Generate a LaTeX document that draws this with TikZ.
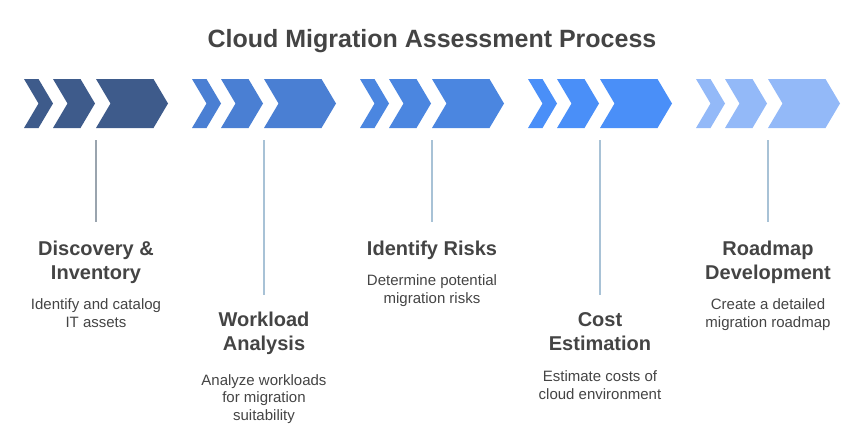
\documentclass[tikz,border=0pt]{standalone}
\usepackage{fontspec}
\setmainfont{Liberation Sans}
\definecolor{gA}{HTML}{3E5B8B}
\definecolor{gB}{HTML}{4A7FD3}
\definecolor{gC}{HTML}{4B86E0}
\definecolor{gD}{HTML}{4A8FF8}
\definecolor{gE}{HTML}{93B9F8}
\definecolor{txt}{HTML}{444444}
\definecolor{lineA}{HTML}{9AA4AE}
\definecolor{lineB}{HTML}{A8C2D6}
\newcommand{\chevshape}[3]{\fill[#3] (#1,79) -- ++(#2,0) -- ++(14.5,24.5) -- ++(-14.5,24.5) -- ++(-#2,0) -- ++(14.5,-24.5) -- cycle;}
\newcommand{\chevgroup}[2]{\chevshape{#1}{14.5}{#2}\chevshape{#1+29}{27.5}{#2}\chevshape{#1+72}{57.5}{#2}}
\tikzset{
  titletext/.style={inner sep=0pt, anchor=base, text=txt, font=\fontsize{25}{30}\selectfont\bfseries},
  headtext/.style={inner sep=0pt, anchor=base, align=center, text=txt, font=\fontsize{20}{24}\selectfont\bfseries},
  desctext/.style={inner sep=0pt, anchor=base, align=center, text=txt, font=\fontsize{15}{17.25}\selectfont},
  vline/.style={line width=1.5pt}
}
\begin{document}
\begin{tikzpicture}[x=1pt,y=-1pt]
\useasboundingbox (0,0) rectangle (864,426);
\node[titletext] (title) at (432,47) {Cloud Migration Assessment Process};
\chevgroup{24}{gA}
\chevgroup{192}{gB}
\chevgroup{360}{gC}
\chevgroup{528}{gD}
\chevgroup{696}{gE}
% connectors
\coordinate (l1t) at (96,140);  \coordinate (l1b) at (96,222);
\coordinate (l2t) at (264,140); \coordinate (l2b) at (264,295);
\coordinate (l3t) at (432,140); \coordinate (l3b) at (432,222);
\coordinate (l4t) at (600,140); \coordinate (l4b) at (600,295);
\coordinate (l5t) at (768,140); \coordinate (l5b) at (768,222);
\draw[vline, lineA] (l1t) -- (l1b);
\draw[vline, lineB] (l2t) -- (l2b);
\draw[vline, lineB] (l3t) -- (l3b);
\draw[vline, lineB] (l4t) -- (l4b);
\draw[vline, lineB] (l5t) -- (l5b);
% texts (anchor base = baseline of the last line)
\node[headtext] (h1) at (96,279) {Discovery \&\\Inventory};
\node[desctext] (d1) at (96,327) {Identify and catalog\\IT assets};
\node[headtext] (h2) at (264,350) {Workload\\Analysis};
\node[desctext] (d2) at (264,420) {Analyze workloads\\for migration\\suitability};
\node[headtext] (h3) at (432,255) {Identify Risks};
\node[desctext] (d3) at (432,303) {Determine potential\\migration risks};
\node[headtext] (h4) at (600,350) {Cost\\Estimation};
\node[desctext] (d4) at (600,399) {Estimate costs of\\cloud environment};
\node[headtext] (h5) at (768,279) {Roadmap\\Development};
\node[desctext] (d5) at (768,327) {Create a detailed\\migration roadmap};
\end{tikzpicture}
\end{document}
